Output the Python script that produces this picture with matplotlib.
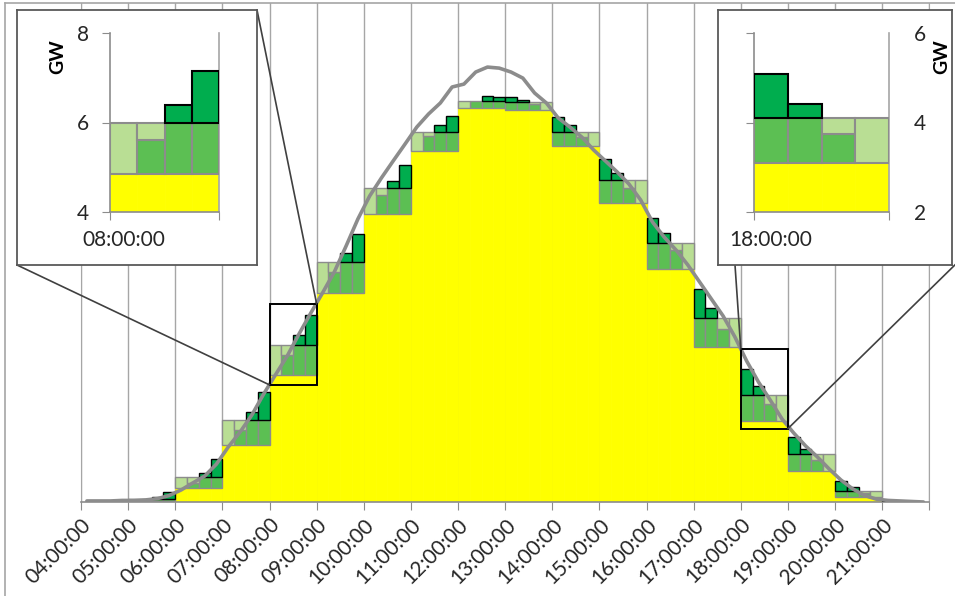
import numpy as np
import matplotlib
matplotlib.use('Agg')
import matplotlib.pyplot as plt
from matplotlib.patches import Rectangle, ConnectionPatch
from matplotlib.lines import Line2D

plt.rcParams['font.family'] = ['Lato', 'DejaVu Sans']

# ---- data (GW) ----
hours = list(range(4, 22))                       # 04:00 ... 21:00
hour_labels = [f'{h:02d}:00:00' for h in hours]

# hourly block: yellow base and upper level of the green block
base_gw = [0.0, 0.02, 0.55, 2.18, 4.85, 7.97, 10.98, 13.41, 15.03,
           14.98, 13.59, 11.42, 8.88, 5.93, 3.1, 1.19, 0.2, 0.0]
level_gw = [0.0, 0.11, 0.97, 3.13, 5.98, 9.15, 11.97, 14.13, 15.32,
            15.25, 14.13, 12.29, 9.87, 7.03, 4.1, 1.83, 0.43, 0.0]

# quarter-hour values (4 per hour)
quarter_gw = [
    0.0, 0.0, 0.0, 0.0,        # 04
    0.0, 0.0, 0.19, 0.37,      # 05
    0.5, 0.73, 1.1, 1.64,      # 06
    2.1, 2.75, 3.45, 4.21,     # 07
    4.8, 5.62, 6.38, 7.15,     # 08
    7.9, 8.79, 9.52, 10.23,    # 09
    10.9, 11.72, 12.26, 12.86,  # 10
    13.35, 13.97, 14.39, 14.74,  # 11
    14.95, 15.32, 15.48, 15.46,  # 12
    15.44, 15.34, 15.19, 14.9,  # 13
    14.71, 14.39, 13.94, 13.5,  # 14
    13.08, 12.55, 11.97, 11.35,  # 15
    10.83, 10.26, 9.62, 8.8,   # 16
    8.12, 7.39, 6.59, 5.85,    # 17
    5.08, 4.41, 3.74, 3.0,     # 18
    2.49, 2.01, 1.6, 1.1,      # 19
    0.81, 0.56, 0.33, 0.15,    # 20
    0.05, 0.0, 0.0, 0.0,       # 21
]

# quarter-hour curve (grey line)
curve_gw = [
    0.04, 0.04, 0.04, 0.06, 0.06, 0.08, 0.13, 0.25,
    0.46, 0.73, 0.99, 1.45, 2.10, 2.67, 3.32, 4.12,
    4.85, 5.57, 6.41, 7.21, 7.98, 8.78, 9.77, 10.80,
    11.68, 12.37, 13.02, 13.66, 14.31, 14.81, 15.23, 15.84,
    15.95, 16.41, 16.60, 16.56, 16.41, 16.18, 15.61, 15.23,
    14.66, 14.31, 13.93, 13.44, 13.02, 12.60, 12.14, 11.53,
    10.69, 10.11, 9.62, 9.05, 8.40, 7.75, 7.10, 6.30,
    5.38, 4.58, 3.89, 3.17, 2.63, 2.14, 1.72, 1.26,
    0.84, 0.50, 0.25, 0.11, 0.06, 0.04, 0.02, 0.0,
]

# zoom boxes (hour span, GW span)
zoom_left = (8, 9, 4.47, 7.56)
zoom_right = (18, 19, 2.80, 5.83)

YELLOW = '#FFFF00'
LIGHT = '#B9DE94'
MID = '#5CBF53'
DARK = '#00AD4E'
EDGE = '#8C8C8C'
FS = 15

W, H = 955, 596
fig = plt.figure(figsize=(W / 100, H / 100), dpi=100)


def fx(px):
    return px / W


def fy(py):
    return 1 - py / H


t = 4 + 0.25 * np.arange(len(quarter_gw))
base_q = np.repeat(base_gw, 4)
level_q = np.repeat(level_gw, 4)
q = np.array(quarter_gw)
mid = np.clip(q - base_q, 0, level_q - base_q)
light = (level_q - base_q) - mid
dark = np.clip(q - level_q, 0, None)


def draw_stack(ax, lw, sel=None):
    if sel is None:
        sel = np.ones(len(t), bool)
    m = sel & (base_q > 0)
    ax.bar(t[m], base_q[m], width=0.25, align='edge', color=YELLOW,
           edgecolor=YELLOW, linewidth=0.5, zorder=2)
    m = sel & (mid > 0)
    ax.bar(t[m], mid[m], bottom=base_q[m], width=0.25, align='edge',
           color=MID, edgecolor=EDGE, linewidth=lw, zorder=3)
    m = sel & (light > 0)
    ax.bar(t[m], light[m], bottom=(base_q + mid)[m], width=0.25, align='edge',
           color=LIGHT, edgecolor=EDGE, linewidth=lw, zorder=3)
    m = sel & (dark > 0)
    ax.bar(t[m], dark[m], bottom=level_q[m], width=0.25, align='edge',
           color=DARK, edgecolor='black', linewidth=lw, zorder=3.5)


# ---- main chart ----
ax = fig.add_axes([fx(81), fy(502), fx(929.3 - 81), (502 - 3) / H])
ax.set_xlim(4, 22)
ax.set_ylim(0, 499 / 26.2)
draw_stack(ax, 1.0)
ax.plot(t + 0.125, curve_gw, color='#8C8C8C', lw=2.6, zorder=4,
        solid_capstyle='round')

for x0, x1, y0, y1 in (zoom_left, zoom_right):
    ax.add_patch(Rectangle((x0, y0), x1 - x0, y1 - y0, fill=False,
                           edgecolor='black', linewidth=1.4, zorder=5))

ax.set_xticks(list(range(4, 23)), labels=hour_labels + [''])
ax.tick_params(axis='x', direction='out', length=6, color='#8C8C8C',
               labelsize=FS, pad=3, labelcolor='#262626')
for lab in ax.get_xticklabels():
    lab.set_rotation(45)
    lab.set_ha('right')
    lab.set_rotation_mode('anchor')
ax.set_yticks([])
ax.grid(axis='x', color='#A6A6A6', lw=1.0, zorder=1)
ax.set_axisbelow(True)
ax.spines['top'].set_visible(False)
for s in ('left', 'right', 'bottom'):
    ax.spines[s].set_color('#A6A6A6')
ax.spines['bottom'].set_color('#8C8C8C')
ax.spines['bottom'].set_linewidth(1.2)

# outer chart border
fig.add_artist(Line2D([fx(5), 1], [fy(3), fy(3)], color='#A6A6A6', lw=1.2))
fig.add_artist(Line2D([fx(5), fx(5)], [fy(3), 0], color='#A6A6A6', lw=1.2))

# ---- connectors ----
conns = [((257, 10), (zoom_left[1], zoom_left[3])),
         ((17, 265), (zoom_left[0], zoom_left[2])),
         ((735, 265), (zoom_right[0], zoom_right[3])),
         ((962, 258), (zoom_right[1], zoom_right[2]))]
for (px, py), xy in conns:
    cp = ConnectionPatch(xyA=(fx(px), fy(py)), coordsA=fig.transFigure,
                         xyB=xy, coordsB=ax.transData,
                         color='#404040', lw=1.2, zorder=1.5)
    fig.add_artist(cp)


# ---- insets ----
def inset(frame, plot, hour, ylim, yticks, label_side, gw_x):
    fl, ft, fr, fb = frame
    fa = fig.add_axes([fx(fl), fy(fb), fx(fr - fl), (fb - ft) / H], zorder=2)
    fa.set_xticks([])
    fa.set_yticks([])
    fa.set_facecolor('white')
    for s in fa.spines.values():
        s.set_color('#595959')
        s.set_linewidth(1.3)
    pl, pt, pr, pb = plot
    ia = fig.add_axes([fx(pl), fy(pb), fx(pr - pl), (pb - pt) / H], zorder=3)
    ia.patch.set_alpha(0)
    draw_stack(ia, 1.5, sel=(t >= hour) & (t < hour + 1))
    ia.set_xlim(hour, hour + 1)
    ia.set_ylim(*ylim)
    ia.set_yticks(yticks, labels=[str(v) for v in yticks])
    ia.set_xticks([hour, hour + 1], labels=['', ''])
    ia.set_xticks([hour + 0.125], labels=[hour_labels[hours.index(hour)]],
                  minor=True)
    ia.tick_params(axis='x', which='minor', length=0, pad=13, labelsize=FS,
                   labelcolor='#262626')
    ia.tick_params(axis='x', which='major', length=6, color='#8C8C8C')
    ia.tick_params(axis='y', length=6, color='#8C8C8C', labelsize=FS,
                   labelcolor='#262626')
    if label_side == 'right':
        ia.tick_params(axis='y', labelleft=False, labelright=True, pad=12)
    else:
        ia.tick_params(axis='y', pad=9)
    ia.spines['top'].set_visible(False)
    for s in ('left', 'bottom', 'right'):
        ia.spines[s].set_color('#8C8C8C')
        ia.spines[s].set_linewidth(1.2)
    ia.spines['right'].set_color('#A6A6A6')
    ia.text(gw_x, 0.866, 'GW', transform=ia.transAxes, rotation=90,
            ha='center', va='center', fontsize=14, fontweight='bold')
    return ia


inset((17, 10, 257, 265), (110, 33, 219, 212), 8, (4, 8), [4, 6, 8],
      'left', -0.477)
inset((718, 10, 952, 265), (754, 33, 889, 212), 18, (2, 6), [2, 4, 6],
      'right', 1.393)

fig.savefig('out.png', dpi=100)
